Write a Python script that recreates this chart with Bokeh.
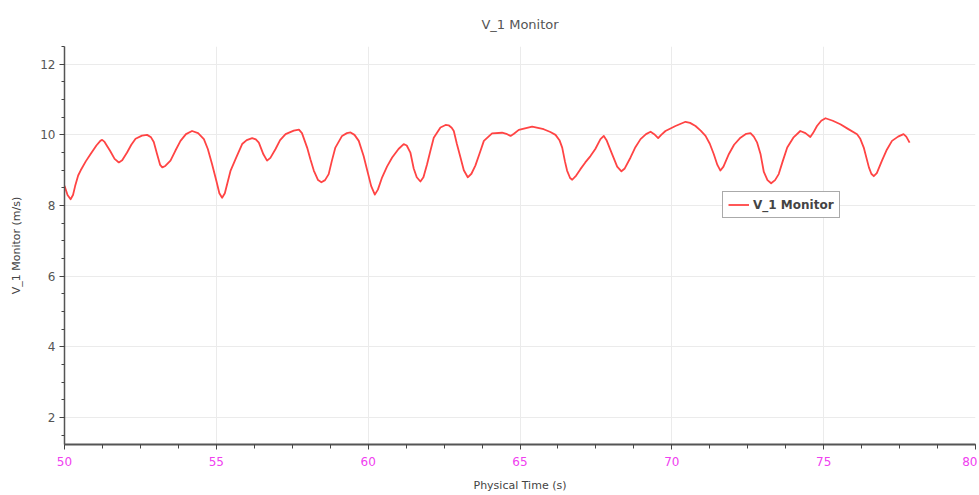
from bokeh.plotting import figure
from bokeh.models import Legend, LegendItem, Range1d, SingleIntervalTicker, FixedTicker
from bokeh.embed import file_html
from bokeh.resources import INLINE

# Physical time (s) and V_1 monitor (m/s)
time_s = [50.0, 50.1, 50.2, 50.28, 50.35, 50.45, 50.53, 50.7, 50.86, 51.05,
          51.18, 51.24, 51.32, 51.5, 51.65, 51.79, 51.9, 52.06, 52.2, 52.34,
          52.55, 52.72, 52.85, 52.94, 53.05, 53.15, 53.22, 53.32, 53.49, 53.65,
          53.82, 54.0, 54.2, 54.4, 54.59, 54.72, 54.86, 55.0, 55.1, 55.19,
          55.28, 55.47, 55.65, 55.85, 56.0, 56.18, 56.3, 56.4, 56.55, 56.67,
          56.78, 56.95, 57.1, 57.28, 57.55, 57.72, 57.82, 57.99, 58.1, 58.21,
          58.35, 58.46, 58.58, 58.7, 58.8, 58.92, 59.14, 59.3, 59.42, 59.55,
          59.69, 59.85, 59.97, 60.1, 60.22, 60.32, 60.46, 60.62, 60.79, 61.0,
          61.17, 61.27, 61.39, 61.5, 61.6, 61.72, 61.82, 61.94, 62.05, 62.16,
          62.38, 62.55, 62.65, 62.75, 62.82, 62.92, 63.04, 63.15, 63.28, 63.4,
          63.53, 63.68, 63.81, 64.08, 64.41, 64.55, 64.69, 64.8, 64.96, 65.4,
          65.78, 66.0, 66.17, 66.3, 66.39, 66.48, 66.55, 66.65, 66.72, 66.85,
          66.99, 67.15, 67.32, 67.48, 67.65, 67.76, 67.85, 68.03, 68.2, 68.34,
          68.45, 68.64, 68.8, 68.97, 69.15, 69.3, 69.42, 69.55, 69.65, 69.79,
          70.12, 70.45, 70.6, 70.78, 70.95, 71.11, 71.25, 71.38, 71.5, 71.6,
          71.7, 71.88, 72.05, 72.26, 72.45, 72.59, 72.7, 72.81, 72.92, 73.03,
          73.15, 73.27, 73.4, 73.52, 73.65, 73.8, 74.0, 74.23, 74.4, 74.56,
          74.65, 74.78, 74.92, 75.06, 75.3, 75.55, 75.8, 76.1, 76.2, 76.32,
          76.49, 76.57, 76.65, 76.75, 76.92, 77.08, 77.25, 77.45, 77.63, 77.72,
          77.83]
v1_monitor = [8.56, 8.3, 8.18, 8.3, 8.55, 8.85, 8.99, 9.25, 9.46, 9.7,
              9.83, 9.86, 9.8, 9.55, 9.32, 9.22, 9.28, 9.5, 9.72, 9.89,
              9.98, 10.0, 9.93, 9.8, 9.45, 9.15, 9.08, 9.12, 9.27, 9.55,
              9.83, 10.02, 10.11, 10.05, 9.88, 9.6, 9.17, 8.7, 8.35, 8.22,
              8.35, 8.99, 9.35, 9.74, 9.85, 9.91, 9.87, 9.78, 9.45, 9.27,
              9.35, 9.6, 9.85, 10.02, 10.12, 10.15, 10.05, 9.64, 9.3, 8.99,
              8.72, 8.66, 8.72, 8.89, 9.25, 9.64, 9.97, 10.05, 10.07, 10.0,
              9.83, 9.4, 8.99, 8.55, 8.31, 8.45, 8.8, 9.1, 9.36, 9.6,
              9.74, 9.7, 9.5, 9.05, 8.8, 8.68, 8.8, 9.17, 9.55, 9.92,
              10.21, 10.28, 10.27, 10.2, 10.11, 9.75, 9.36, 9.0, 8.8, 8.9,
              9.13, 9.5, 9.83, 10.04, 10.06, 10.03, 9.97, 10.03, 10.14, 10.23,
              10.16, 10.08, 10.0, 9.85, 9.64, 9.25, 8.99, 8.78, 8.73, 8.85,
              9.03, 9.22, 9.4, 9.6, 9.88, 9.97, 9.85, 9.46, 9.1, 8.97,
              9.05, 9.36, 9.65, 9.88, 10.02, 10.09, 10.02, 9.91, 10.0, 10.11,
              10.25, 10.37, 10.34, 10.25, 10.12, 9.97, 9.75, 9.46, 9.15, 8.99,
              9.1, 9.46, 9.72, 9.92, 10.03, 10.05, 9.95, 9.78, 9.46, 8.95,
              8.72, 8.63, 8.72, 8.89, 9.25, 9.64, 9.92, 10.11, 10.05, 9.94,
              10.05, 10.25, 10.4, 10.47, 10.4, 10.3, 10.17, 10.02, 9.9, 9.64,
              9.08, 8.9, 8.83, 8.92, 9.27, 9.58, 9.83, 9.95, 10.02, 9.95,
              9.78]

x_ticks = [50, 55, 60, 65, 70, 75, 80]
y_ticks = [2, 4, 6, 8, 10, 12]

FONT = "DejaVu Sans"

p = figure(width=977, height=494, output_backend="svg", toolbar_location=None,
           x_range=Range1d(50, 80), y_range=Range1d(1.24, 12.5),
           min_border_left=64, min_border_right=2, min_border_top=45,
           min_border_bottom=49)
p.outline_line_color = None
p.background_fill_color = "white"

p.title.text = "V_1 Monitor"
p.title.align = "center"
p.title.text_font = FONT
p.title.text_font_size = "13px"
p.title.text_font_style = "normal"
p.title.text_color = "#555555"
p.title.standoff = 29

line = p.line(time_s, v1_monitor, line_color="#ff4444", line_width=1.8,
              line_join="round")

# axes
xa = p.xaxis[0]
xa.ticker = SingleIntervalTicker(interval=5, num_minor_ticks=4)
xa.axis_label = "Physical Time (s)"
xa.axis_label_text_font = FONT
xa.axis_label_text_font_size = "11px"
xa.axis_label_text_font_style = "normal"
xa.axis_label_text_color = "#444444"
xa.axis_label_standoff = 10
xa.major_label_text_font = FONT
xa.major_label_text_font_size = "12px"
xa.major_label_text_color = "#f040f0"
xa.major_label_standoff = 7
xa.axis_line_color = "#555555"
xa.axis_line_width = 2
xa.major_tick_line_color = "#444444"
xa.minor_tick_line_color = "#444444"
xa.major_tick_out = 5
xa.major_tick_in = 0
xa.minor_tick_out = 4
xa.minor_tick_in = 0

ya = p.yaxis[0]
ya.ticker = SingleIntervalTicker(interval=2, num_minor_ticks=4)
ya.axis_label = "V_1 Monitor (m/s)"
ya.axis_label_text_font = FONT
ya.axis_label_text_font_size = "11px"
ya.axis_label_text_font_style = "normal"
ya.axis_label_text_color = "#444444"
ya.axis_label_standoff = 14
ya.major_label_text_font = FONT
ya.major_label_text_font_size = "12px"
ya.major_label_text_color = "#555555"
ya.major_label_standoff = 4
ya.axis_line_color = "#555555"
ya.axis_line_width = 1.5
ya.major_tick_line_color = "#444444"
ya.minor_tick_line_color = "#444444"
ya.major_tick_out = 5
ya.major_tick_in = 0
ya.minor_tick_out = 3
ya.minor_tick_in = 0

p.xgrid.ticker = FixedTicker(ticks=x_ticks)
p.ygrid.ticker = FixedTicker(ticks=y_ticks)
p.xgrid.grid_line_color = "#ebebeb"
p.ygrid.grid_line_color = "#ebebeb"
p.xgrid.grid_line_width = 1
p.ygrid.grid_line_width = 1

legend = Legend(items=[LegendItem(label="V_1 Monitor", renderers=[line])],
                location=(658, 226))
legend.label_text_font = FONT
legend.label_text_font_size = "12px"
legend.label_text_font_style = "bold"
legend.label_text_color = "#444444"
legend.border_line_color = "#555555"
legend.border_line_width = 1.5
legend.background_fill_color = "white"
legend.background_fill_alpha = 1
legend.padding = 5
legend.margin = 0
legend.spacing = 0
legend.glyph_width = 21
legend.glyph_height = 15
legend.label_height = 15
legend.label_standoff = 4
p.add_layout(legend, "center")

open("out.html", "w").write(file_html(p, INLINE))
